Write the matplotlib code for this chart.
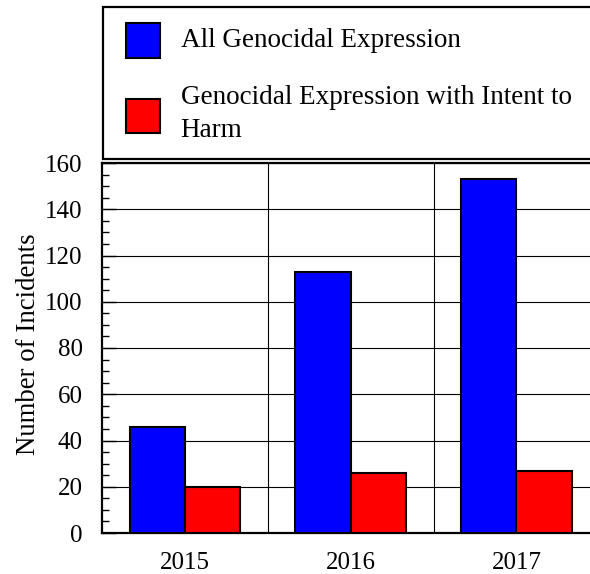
import matplotlib
matplotlib.use("Agg")
import matplotlib.pyplot as plt
import numpy as np
from matplotlib.patches import Rectangle
from matplotlib.ticker import MultipleLocator, FixedLocator

# Data
years = ["2015", "2016", "2017"]
all_expression = [46, 113, 153]
intent_to_harm = [20, 26, 27]
series_labels = ["All Genocidal Expression", "Genocidal Expression with Intent to\nHarm"]
series_colors = ["#0000ff", "#ff0000"]

plt.rcParams["font.family"] = ["Liberation Serif", "DejaVu Serif"]

W, H = 590, 574
fig = plt.figure(figsize=(W / 100, H / 100), dpi=100)

def fx(px):
    return px / W

def fy(py):
    return 1 - py / H

# Plot area (extends slightly past the right edge of the figure)
ax_left, ax_top, ax_bottom, ax_width = 102, 163, 533, 497.4
ax = fig.add_axes([fx(ax_left), fy(ax_bottom), ax_width / W, (ax_bottom - ax_top) / H])

x = np.arange(len(years))
bw = 1 / 3
ax.bar(x - bw / 2, all_expression, bw, color=series_colors[0], edgecolor="black", linewidth=1.5, zorder=3)
ax.bar(x + bw / 2, intent_to_harm, bw, color=series_colors[1], edgecolor="black", linewidth=1.5, zorder=3)

ax.set_xlim(-0.5, len(years) - 0.5)
ax.set_ylim(0, 160)
ax.set_xticks(x)
ax.set_xticklabels(years, fontsize=18)
ax.xaxis.set_minor_locator(FixedLocator([0.5, 1.5]))
ax.yaxis.set_major_locator(MultipleLocator(20))
ax.yaxis.set_minor_locator(MultipleLocator(5))
ax.tick_params(axis="x", which="both", length=0, pad=14)
ax.tick_params(axis="y", which="major", direction="in", length=10, width=1, labelsize=18, pad=14)
ax.tick_params(axis="y", which="minor", direction="in", length=5, width=1)
ax.grid(axis="y", which="major", color="black", linewidth=0.8, zorder=0)
ax.grid(axis="x", which="minor", color="black", linewidth=0.8, zorder=0)
ax.set_axisbelow(True)

for side in ["left", "bottom", "top"]:
    ax.spines[side].set_linewidth(1.6)
ax.spines["right"].set_visible(False)

ax.set_ylabel("Number of Incidents", fontsize=19.3, labelpad=3)
ax.yaxis.label.set_y(0.511)

# Key box above the plot
fig.patches.append(Rectangle((fx(103), fy(159)), fx(600) - fx(103), fy(7) - fy(159),
                             transform=fig.transFigure, facecolor="white",
                             edgecolor="black", linewidth=1.6))
swatches = [(23.3, 57.7), (98.7, 133.3)]
baselines = [47.3, 136.7]
for (top, bot), base, label, color in zip(swatches, baselines, series_labels, series_colors):
    fig.patches.append(Rectangle((fx(125.7), fy(bot)), fx(160) - fx(125.7), fy(top) - fy(bot),
                                 transform=fig.transFigure, facecolor=color,
                                 edgecolor="black", linewidth=1.5))
    fig.text(fx(180.7), fy(base), label, fontsize=19.5, va="baseline", ha="left",
             linespacing=1.43)

fig.savefig("out.png", dpi=100)
